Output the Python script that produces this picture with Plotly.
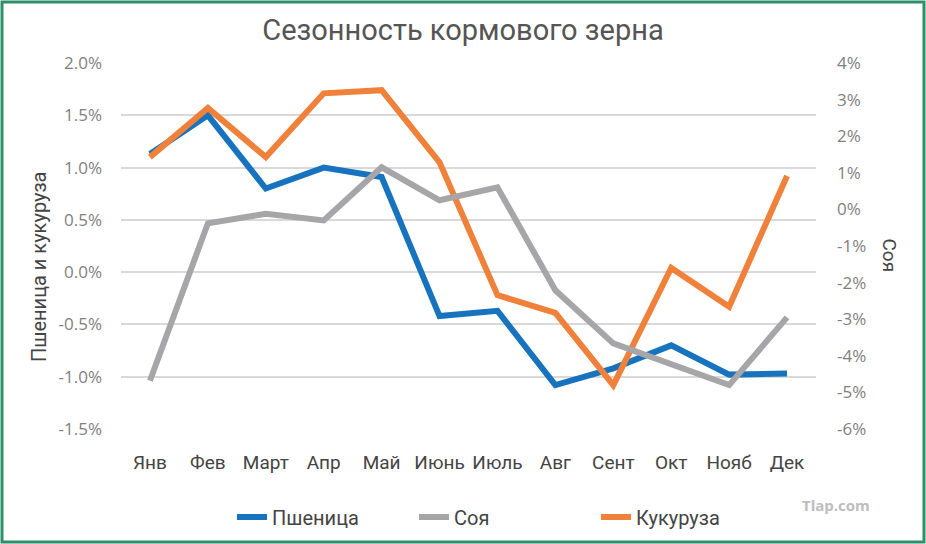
import plotly.graph_objects as go

months = ["Янв", "Фев", "Март", "Апр", "Май", "Июнь", "Июль", "Авг", "Сент", "Окт", "Нояб", "Дек"]
wheat = [1.13, 1.50, 0.80, 1.00, 0.91, -0.42, -0.37, -1.08, -0.92, -0.70, -0.98, -0.97]
corn = [1.10, 1.57, 1.10, 1.71, 1.74, 1.05, -0.22, -0.39, -1.08, 0.04, -0.33, 0.92]
soy = [-4.68, -0.38, -0.12, -0.30, 1.15, 0.25, 0.60, -2.21, -3.66, -4.21, -4.80, -2.95]

left_ticks = [-1.5, -1.0, -0.5, 0.0, 0.5, 1.0, 1.5, 2.0]
right_ticks = [-6, -5, -4, -3, -2, -1, 0, 1, 2, 3, 4]

BLUE = "#1873BE"
GRAY = "#A6A6A8"
ORANGE = "#F0813A"

fig = go.Figure()
fig.add_trace(go.Scatter(x=months, y=wheat, name="Пшеница", mode="lines",
                         line=dict(color=BLUE, width=6), yaxis="y"))
fig.add_trace(go.Scatter(x=months, y=soy, name="Соя", mode="lines",
                         line=dict(color=GRAY, width=6), yaxis="y2"))
fig.add_trace(go.Scatter(x=months, y=corn, name="Кукуруза", mode="lines",
                         line=dict(color=ORANGE, width=6), yaxis="y"))

L, R, T, B = 121, 110, 63, 115
W, H = 926, 544
pw, ph = W - L - R, H - T - B

fig.update_layout(
    width=W, height=H,
    margin=dict(l=L, r=R, t=T, b=B, autoexpand=False),
    paper_bgcolor="white", plot_bgcolor="white",
    font=dict(family="Roboto, Liberation Sans, sans-serif", color="#444"),
    title=dict(text="Сезонность кормового зерна", x=0.5, xanchor="center",
               y=1 - 30 / H, yanchor="middle",
               font=dict(size=29, color="#555", family="Roboto, Liberation Sans, sans-serif")),
    xaxis=dict(type="category", range=[-0.5, 11.5], showgrid=False, showline=False,
               ticks="", tickfont=dict(size=19, color="#444"), ticklabelstandoff=20),
    yaxis=dict(range=[-1.5, 2.0], tickvals=left_ticks,
               ticktext=[f"{v:.1f}%" for v in left_ticks],
               showgrid=True, gridcolor="#D9D9D9", gridwidth=2, zeroline=False,
               showline=False, ticks="", ticklabelstandoff=18,
               tickfont=dict(size=17, color="#7F7F7F", family="Open Sans, sans-serif")),
    yaxis2=dict(range=[-6, 4], tickvals=right_ticks,
                ticktext=[f"{v}%" for v in right_ticks],
                overlaying="y", side="right", showgrid=False, zeroline=False,
                showline=False, ticks="", ticklabelstandoff=20,
                tickfont=dict(size=17, color="#7F7F7F", family="Open Sans, sans-serif")),
    legend=dict(orientation="h", xref="container", yref="container",
                x=232 / W, xanchor="left", y=1 - 517 / H, yanchor="middle",
                bgcolor="rgba(0,0,0,0)",
                font=dict(size=20, color="#444"),
                entrywidthmode="pixels", entrywidth=137),
    showlegend=True,
)

# left axis title
fig.add_annotation(text="Пшеница и кукуруза", xref="paper", yref="paper",
                   x=(25 - L) / pw, y=(H - B - 267) / ph, showarrow=False,
                   textangle=-90, font=dict(size=20, color="#444"))

# right axis title (reads top to bottom)
fig.add_annotation(text="Соя", xref="paper", yref="paper",
                   x=(903 - L) / pw, y=(H - B - 255) / ph, showarrow=False,
                   textangle=90, font=dict(size=19, color="#444"))

# watermark
fig.add_annotation(text="<b>Tlap.com</b>", xref="paper", yref="paper",
                   x=(872 - L) / pw, y=-(517 - (H - B)) / ph, showarrow=False,
                   font=dict(size=15, color="#BDBDBD", family="Open Sans, sans-serif"))

# green border around the whole image
fig.add_shape(type="rect", xref="paper", yref="paper",
              x0=(2 - L) / pw, x1=(W - 2 - L) / pw,
              y0=-(H - 2 - (H - B)) / ph, y1=1 + (T - 2) / ph,
              line=dict(color="#2E8F6A", width=3), fillcolor="rgba(0,0,0,0)", layer="below")

fig.write_html("out.html")
